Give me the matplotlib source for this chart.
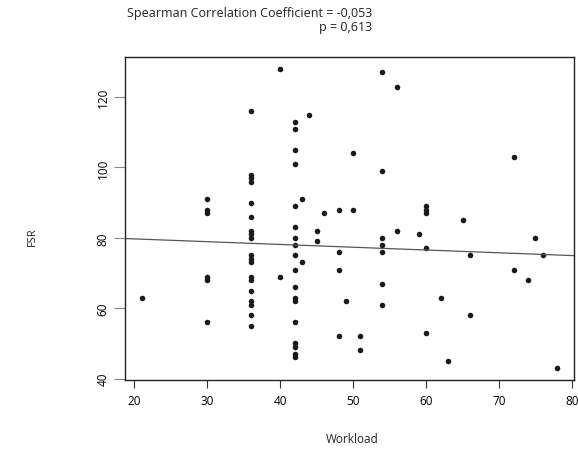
import numpy as np
import matplotlib
matplotlib.use("Agg")
import matplotlib.pyplot as plt

plt.rcParams['font.family'] = ['Open Sans', 'DejaVu Sans']

# workload / FSR pairs
workload = [21,
            30, 30, 30, 30, 30, 30,
            36, 36, 36, 36, 36, 36, 36, 36, 36, 36, 36, 36, 36, 36, 36, 36, 36, 36, 36,
            40, 40,
            42, 42, 42, 42, 42, 42, 42, 42, 42, 42, 42, 42, 42, 42, 42, 42, 42, 42,
            43, 43, 44, 45, 45, 46,
            48, 48, 48, 48, 49, 50, 50, 51, 51,
            54, 54, 54, 54, 54, 54, 54,
            56, 56, 59,
            60, 60, 60, 60, 60,
            62, 63, 65, 66, 66, 72, 72, 74, 75, 76, 78]
fsr = [63,
       91, 88, 87, 69, 68, 56,
       116, 98, 97, 96, 90, 86, 82, 81, 80, 75, 74, 73, 69, 68, 65, 62, 61, 58, 55,
       128, 69,
       113, 111, 105, 101, 89, 83, 80, 78, 75, 71, 66, 63, 62, 56, 50, 49, 47, 46,
       91, 73, 115, 82, 79, 87,
       88, 76, 71, 52, 62, 104, 88, 52, 48,
       127, 99, 80, 78, 76, 67, 61,
       123, 82, 81,
       89, 88, 87, 77, 53,
       63, 45, 85, 75, 58, 103, 71, 68, 80, 75, 43]

title_lines = ["Spearman Correlation Coefficient = -0,053", "p = 0,613"]

x = np.array(workload)
y = np.array(fsr)

fig = plt.figure(figsize=(5.78, 4.52), dpi=100)
ax = fig.add_axes([125/578, 1 - 381/452, 449/578, 323/452])

ax.plot(x, y, 'o', color='#1a1a1a', ms=4, mew=0)

slope, intercept = np.polyfit(x, y, 1)
x0, x1 = x.min() - 0.04 * np.ptp(x), x.max() + 0.04 * np.ptp(x)
ax.plot([x0, x1], [intercept + slope * x0, intercept + slope * x1], color='#555555', lw=0.9)

ax.set_xlim(x0, x1)
ax.set_ylim(y.min() - 0.04 * np.ptp(y), y.max() + 0.04 * np.ptp(y))
ax.set_xticks(range(20, 81, 10))
ax.set_yticks(range(40, 121, 20))
ax.tick_params(axis='x', length=6, width=0.8, color='#333333', labelsize=8.5, pad=4)
ax.tick_params(axis='y', length=8, width=0.8, color='#888888', labelsize=8.5, pad=3)
for lab in ax.get_yticklabels():
    lab.set_rotation(90)
    lab.set_va('center')
for s in ax.spines.values():
    s.set_linewidth(1)
    s.set_color('#222222')

fig.text(372/578, 1 - 13/452, title_lines[0], ha='right', va='center', fontsize=9, color='#222222')
fig.text(372/578, 1 - 27/452, title_lines[1], ha='right', va='center', fontsize=9, color='#222222')
fig.text(352/578, 1 - 440/452, "Workload", ha='center', va='center', fontsize=8.5, color='#222222')
fig.text(32/578, 1 - 237/452, "FSR", ha='center', va='center', rotation=90, fontsize=8, color='#222222')

fig.savefig("out.png", dpi=100)
